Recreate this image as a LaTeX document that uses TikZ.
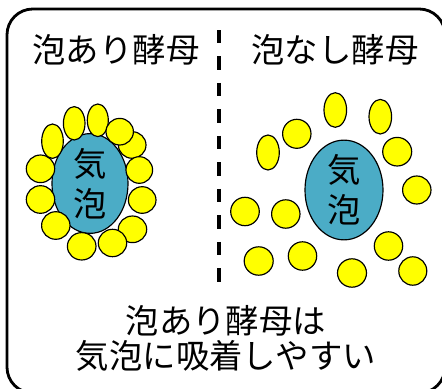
\documentclass[tikz,border=0pt]{standalone}
\usepackage{fontspec}
\newfontfamily\jpfont{Noto Sans CJK JP}
\usetikzlibrary{shapes.geometric}
\definecolor{bubblecol}{HTML}{4BACC6}
\definecolor{yeastcol}{HTML}{FFFF00}
\tikzset{
  cell/.style={draw=black, line width=1pt, fill=yeastcol},
  bubble/.style={ellipse, draw=black, line width=1pt, fill=bubblecol, inner sep=0pt,
    font=\jpfont\fontsize{28.5}{34}\selectfont, align=center},
  jptext/.style={font=\jpfont\fontsize{28.5}{30}\selectfont, align=center}
}
\begin{document}
\begin{tikzpicture}[x=0.03cm,y=-0.03cm]
\clip (0,0) rectangle (442,389);
\draw[line width=2.4pt, rounded corners=22pt] (7,9) rectangle (445,393);
\draw[line width=3pt, dash pattern=on 11.5pt off 11.1pt] (219,30) -- (219,282);
\node[jptext] (titleL) at (116,50) {泡あり酵母};
\node[jptext] (titleR) at (335,50) {泡なし酵母};
% bubble with yeast stuck round it
\node[bubble, minimum width=2.28cm, minimum height=2.79cm] (bubbleL) at (90,183.5) {気\\泡};
\foreach \x/\y/\a/\b in {52.5/141.2/10.8/17.2, 74.2/123.3/10.8/16.7, 97.8/120.3/10.5/16.3,
    132.2/145/13.8/13.3, 119.7/131.7/13.7/13.3, 139.3/170/13.3/13.3, 142.2/200/13.8/13.3,
    132.5/229.3/14.2/13.3, 112.5/243/14.2/13.7, 81.7/246.3/14.3/13.7, 55.8/225.5/14.2/13.8,
    40.5/199.5/14.2/13.8, 40.5/168.8/14.2/13.8}
  \draw[cell] (\x,\y) ellipse [x radius=\a, y radius=\b];
% bubble with yeast spread out
\node[bubble, minimum width=2.34cm, minimum height=2.82cm] (bubbleR) at (344,190) {気\\泡};
\foreach \x/\y/\a/\b in {335.3/110/11.3/17.3, 380.3/116.7/11.3/17.3, 296.8/133.8/14.2/14.5,
    268/152.5/11.3/17.5, 397.2/151.7/14.5/14.3, 416.8/190/14.2/14, 245/211.5/14.3/14.2,
    285.8/214/14.2/14.2, 388.5/246/14.2/14.2, 258.7/261/14.5/14.2, 302.5/256/14.2/14.2,
    352/273/14.5/14.2, 412.8/271/14/14.2}
  \draw[cell] (\x,\y) ellipse [x radius=\a, y radius=\b];
\node[jptext] (note) at (226,338.5) {泡あり酵母は\\気泡に吸着しやすい};
\end{tikzpicture}
\end{document}
